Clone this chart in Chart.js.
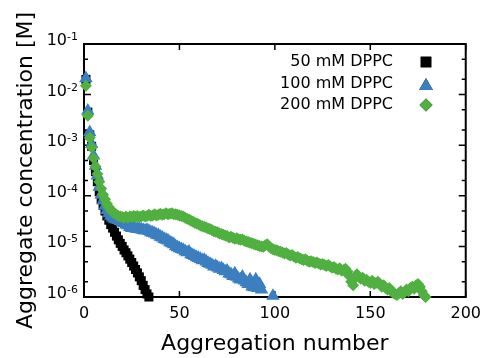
<!DOCTYPE html>
<html>
<head>
<meta charset="utf-8">
<script src="https://cdn.jsdelivr.net/npm/chart.js@4.4.0/dist/chart.umd.min.js"></script>
<style>
  html, body { margin: 0; padding: 0; background: #fff; }
  #wrap { width: 488px; height: 358px; }
</style>
</head>
<body>
<div id="wrap"><canvas id="aggChart"></canvas></div>
<script>
// aggregate concentration [M] for aggregation number n = 1, 2, 3, ...
const dppc50 = [
  2.0e-2, 4.5e-3, 1.6e-3, 9.5e-4, 5.0e-4, 3.0e-4, 1.9e-4, 1.2e-4, 8.5e-5, 6.5e-5,
  5.0e-5, 4.0e-5, 3.3e-5, 2.7e-5, 2.3e-5, 1.9e-5, 1.6e-5, 1.35e-5, 1.15e-5, 1.0e-5,
  8.5e-6, 7.5e-6, 6.5e-6, 5.6e-6, 4.8e-6, 4.1e-6, 3.5e-6, 3.0e-6, 2.5e-6, 2.1e-6,
  1.7e-6, 1.4e-6, 1.15e-6, 1.0e-6
];
const dppc100 = [
  2.1e-2, 4.8e-3, 1.8e-3, 1.05e-3, 6.2e-4, 3.9e-4, 2.5e-4, 1.5e-4, 1.05e-4, 8.0e-5,
  6.3e-5, 5.2e-5, 4.5e-5, 4.0e-5, 3.7e-5, 3.5e-5, 3.4e-5, 3.3e-5, 3.15e-5, 3.0e-5,
  2.9e-5, 2.7e-5, 2.6e-5, 2.4e-5, 2.3e-5, 2.35e-5, 2.25e-5, 2.2e-5, 2.25e-5, 2.15e-5,
  2.1e-5, 2.05e-5, 2.1e-5, 2.0e-5, 1.9e-5, 1.85e-5, 1.8e-5, 1.7e-5, 1.65e-5, 1.55e-5,
  1.5e-5, 1.4e-5, 1.35e-5, 1.3e-5, 1.2e-5, 1.15e-5, 1.1e-5, 1.0e-5, 9.6e-6, 9.2e-6,
  8.8e-6, 8.5e-6, 8.0e-6, 7.6e-6, 7.8e-6, 7.0e-6, 6.7e-6, 6.4e-6, 6.1e-6, 5.9e-6,
  5.6e-6, 5.3e-6, 5.4e-6, 5.0e-6, 4.7e-6, 4.5e-6, 4.3e-6, 4.0e-6, 4.1e-6, 3.8e-6,
  3.6e-6, 3.7e-6, 3.4e-6, 3.2e-6, 3.3e-6, 2.9e-6, 2.8e-6, 2.6e-6, 2.9e-6, 2.5e-6,
  2.3e-6, 2.2e-6, 2.5e-6, 2.1e-6, 1.95e-6, 1.8e-6, 2.2e-6, 1.6e-6, 1.55e-6, 2.2e-6,
  1.5e-6, 1.8e-6, 1.4e-6, null, null, null, null, null, 1.05e-6
];
const dppc200 = [
  1.5e-2, 3.8e-3, 1.4e-3, 9.0e-4, 5.5e-4, 3.8e-4, 2.7e-4, 1.9e-4, 1.4e-4, 1.05e-4,
  8.5e-5, 7.0e-5, 6.0e-5, 5.3e-5, 4.8e-5, 4.5e-5, 4.2e-5, 4.0e-5, 3.9e-5, 3.8e-5,
  3.7e-5, 3.9e-5, 3.7e-5, 3.9e-5, 3.8e-5, 4.0e-5, 3.8e-5, 4.0e-5, 3.8e-5, 3.9e-5,
  4.1e-5, 3.9e-5, 4.0e-5, 4.2e-5, 4.0e-5, 4.1e-5, 4.3e-5, 4.1e-5, 4.2e-5, 4.4e-5,
  4.2e-5, 4.3e-5, 4.5e-5, 4.3e-5, 4.4e-5, 4.5e-5, 4.3e-5, 4.3e-5, 4.2e-5, 4.1e-5,
  4.0e-5, 3.9e-5, 3.7e-5, 3.5e-5, 3.4e-5, 3.2e-5, 3.1e-5, 2.95e-5, 2.85e-5, 2.75e-5,
  2.6e-5, 2.5e-5, 2.45e-5, 2.35e-5, 2.25e-5, 2.2e-5, 2.1e-5, 2.0e-5, 1.95e-5, 1.9e-5,
  1.8e-5, 1.75e-5, 1.7e-5, 1.65e-5, 1.6e-5, 1.5e-5, 1.55e-5, 1.48e-5, 1.42e-5, 1.45e-5,
  1.38e-5, 1.35e-5, 1.37e-5, 1.3e-5, 1.25e-5, 1.22e-5, 1.18e-5, 1.15e-5, 1.12e-5, 1.08e-5,
  1.05e-5, 1.02e-5, 1.0e-5, 9.8e-6, 1.05e-5, 1.1e-5, 9.8e-6, 9.2e-6, 8.8e-6, 8.5e-6,
  8.4e-6, 8.0e-6, 7.8e-6, 7.6e-6, 7.2e-6, 7.4e-6, 6.9e-6, 6.6e-6, 6.8e-6, 6.3e-6,
  6.0e-6, 6.2e-6, 5.8e-6, 5.6e-6, 5.4e-6, 5.6e-6, 5.2e-6, 5.0e-6, 5.1e-6, 4.9e-6,
  4.7e-6, 4.8e-6, 4.6e-6, 4.4e-6, 4.5e-6, 4.3e-6, 4.1e-6, 4.3e-6, 4.0e-6, 3.8e-6,
  3.9e-6, 3.6e-6, 3.5e-6, 3.7e-6, 3.3e-6, 3.4e-6, 3.6e-6, 3.2e-6, 2.6e-6, 2.0e-6,
  1.7e-6, 2.4e-6, 2.8e-6, 2.5e-6, 2.3e-6, 2.4e-6, 2.1e-6, 2.2e-6, 2.0e-6, 1.9e-6,
  2.1e-6, 1.8e-6, 1.9e-6, 2.0e-6, 1.8e-6, 1.6e-6, 1.7e-6, 1.5e-6, 1.4e-6, 1.5e-6,
  1.3e-6, 1.2e-6, 1.15e-6, 1.1e-6, 1.2e-6, 1.3e-6, 1.15e-6, 1.25e-6, 1.4e-6, 1.3e-6,
  1.5e-6, 1.6e-6, 1.45e-6, 1.7e-6, 1.8e-6, 1.6e-6, 1.3e-6, 1.1e-6, 1.0e-6
];

const seriesNames = ['50 mM DPPC', '100 mM DPPC', '200 mM DPPC'];
const xTicks = [0, 50, 100, 150, 200];
const yMajorTicks = [1e-6, 1e-5, 1e-4, 1e-3, 1e-2, 1e-1];
const yMinorTicks = [2e-6, 5e-6, 2e-5, 5e-5, 2e-4, 5e-4, 2e-3, 5e-3, 2e-2, 5e-2];
const yTickExp = ['-6', '-5', '-4', '-3', '-2', '-1'];

const FONT = 'DejaVu Sans';

function toPoints(arr) {
    return arr.map((c, i) => ({ x: i + 1, y: c })).filter(p => p.y !== null);
}

// box round the plot + inward tick marks on all four sides
const frameTicks = {
    id: 'frameTicks',
    beforeDatasetsDraw(chart) {
        const { ctx, chartArea: a, scales: { x, y } } = chart;
        ctx.save();
        ctx.strokeStyle = '#000';
        ctx.lineWidth = 1.5;
        ctx.beginPath();
        x.ticks.forEach(t => {
            const px = x.getPixelForValue(t.value);
            ctx.moveTo(px, a.bottom); ctx.lineTo(px, a.bottom - 6);
            ctx.moveTo(px, a.top); ctx.lineTo(px, a.top + 6);
        });
        y.ticks.forEach(t => {
            const py = y.getPixelForValue(t.value);
            const len = yMajorTicks.includes(t.value) ? 7 : 4;
            ctx.moveTo(a.left, py); ctx.lineTo(a.left + len, py);
            ctx.moveTo(a.right, py); ctx.lineTo(a.right - len, py);
        });
        ctx.stroke();
        ctx.lineWidth = 2;
        ctx.strokeRect(a.left, a.top, a.right - a.left, a.bottom - a.top);

        // y labels as 10 with a raised exponent
        ctx.fillStyle = '#000';
        ctx.textBaseline = 'alphabetic';
        ctx.textAlign = 'left';
        yMajorTicks.forEach((v, k) => {
            const py = y.getPixelForValue(v);
            ctx.font = '11px "' + FONT + '"';
            const wSup = ctx.measureText(yTickExp[k]).width;
            ctx.font = '16px "' + FONT + '"';
            const wBase = ctx.measureText('10').width;
            const right = a.left - 6;
            ctx.fillText('10', right - wSup - wBase, py + 1);
            ctx.font = '11px "' + FONT + '"';
            ctx.fillText(yTickExp[k], right - wSup, py - 4);
        });
        ctx.restore();
    }
};

// legend inside the plot, label on the left and marker on the right
const insideLegend = {
    id: 'insideLegend',
    afterDraw(chart) {
        const { ctx } = chart;
        const rows = [62, 84, 105];
        const sizes = [7.5, 8, 6.5];
        ctx.save();
        ctx.font = '16px "' + FONT + '"';
        ctx.textAlign = 'right';
        ctx.textBaseline = 'middle';
        chart.data.datasets.forEach(ds => {
            const i = ds.legendIndex;
            ctx.fillStyle = '#000';
            ctx.fillText(ds.label, 393, rows[i]);
            Chart.helpers.drawPoint(ctx, {
                pointStyle: ds.pointStyle,
                radius: sizes[i],
                borderWidth: 0
            }, 426, rows[i] + (ds.pointStyle === 'triangle' ? 2 : 0));
            ctx.fillStyle = ds.backgroundColor;
            ctx.fill();
        });
        ctx.restore();
    }
};

const aggChart = new Chart(document.getElementById('aggChart'), {
    type: 'scatter',
    data: {
        datasets: [
            {
                label: seriesNames[0], legendIndex: 0, order: 3,
                data: toPoints(dppc50),
                pointStyle: 'rect', pointRadius: 6.4,
                backgroundColor: '#000000', pointBorderWidth: 0, clip: false
            },
            {
                label: seriesNames[1], legendIndex: 1, order: 2,
                data: toPoints(dppc100),
                pointStyle: 'triangle', pointRadius: 7.8,
                backgroundColor: '#3b7fc0', pointBorderWidth: 0, clip: false
            },
            {
                label: seriesNames[2], legendIndex: 2, order: 1,
                data: toPoints(dppc200),
                pointStyle: 'rectRot', pointRadius: 6,
                backgroundColor: '#50b040', pointBorderWidth: 0, clip: false
            }
        ]
    },
    options: {
        responsive: true,
        maintainAspectRatio: false,
        animation: false,
        layout: { padding: { top: 44, right: 22, left: 0, bottom: 0 } },
        plugins: {
            legend: { display: false },
            tooltip: { enabled: false }
        },
        scales: {
            x: {
                type: 'linear', min: 0, max: 200,
                afterBuildTicks: scale => { scale.ticks = xTicks.map(v => ({ value: v })); },
                afterFit: scale => { scale.height = 61; },
                grid: { display: false, drawTicks: false },
                border: { display: false },
                ticks: { font: { family: FONT, size: 16 }, color: '#000', padding: 7 },
                title: {
                    display: true, text: 'Aggregation number', color: '#000',
                    font: { family: FONT, size: 22 }, padding: { top: 0, bottom: 1 }
                }
            },
            y: {
                type: 'logarithmic', min: 1e-6, max: 1e-1,
                afterBuildTicks: scale => {
                    scale.ticks = yMajorTicks.concat(yMinorTicks).sort((a, b) => a - b).map(v => ({ value: v }));
                },
                afterFit: scale => { scale.width = 84; },
                grid: { display: false, drawTicks: false },
                border: { display: false },
                ticks: { display: false },
                title: {
                    display: true, text: 'Aggregate concentration [M]', color: '#000',
                    font: { family: FONT, size: 22 }, padding: { top: 13, bottom: 0 }
                }
            }
        }
    },
    plugins: [frameTicks, insideLegend]
});
</script>
</body>
</html>
